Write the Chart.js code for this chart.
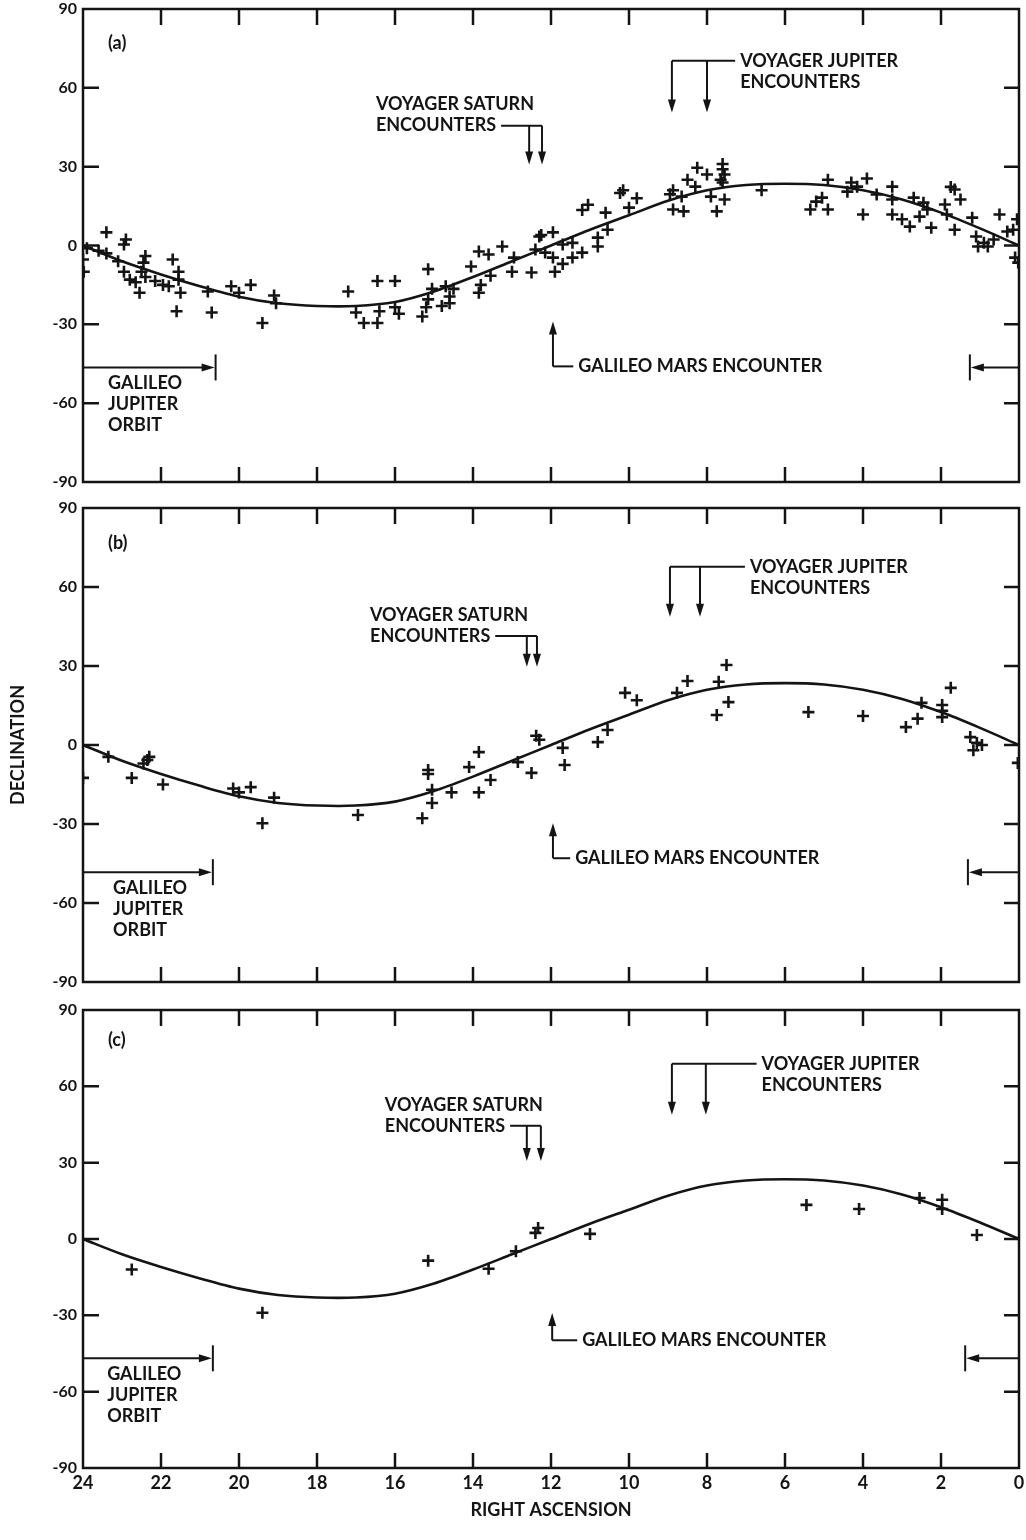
<!DOCTYPE html>
<html>
<head>
<meta charset="utf-8">
<script src="https://cdn.jsdelivr.net/npm/chart.js@4.4.1/dist/chart.umd.min.js"></script>
<style>
  html, body { margin: 0; padding: 0; background: #fff; }
  #sheet { position: relative; width: 1026px; height: 1540px; }
  canvas { position: absolute; left: 0; }
</style>
</head>
<body>
<div id="sheet">
  <canvas id="panelA" width="1026" height="495" style="top:0"></canvas>
  <canvas id="panelB" width="1026" height="500" style="top:495px"></canvas>
  <canvas id="panelC" width="1026" height="545" style="top:995px"></canvas>
</div>
<script>
const FONT = "Lato, 'DejaVu Sans', sans-serif";
const INK = "#141414";

// right ascension runs from 24 h on the left to 0 h on the right
const raTicks = [24, 22, 20, 18, 16, 14, 12, 10, 8, 6, 4, 2, 0];
const decTicks = [-90, -60, -30, 0, 30, 60, 90];

// ecliptic curve
const eclipticRa = [24, 23, 22, 21, 20, 19, 18, 17, 16, 15, 14, 13, 12,
  11, 10, 9, 8, 7, 6, 5, 4, 3, 2, 1, 0];
const eclipticDec = [0, -6, -11, -15.5, -19.5, -22, -23, -23, -21.5, -17.5, -12, -6, 0,
  6, 11.5, 17, 21, 23, 23.5, 23, 21, 17.5, 12.5, 6.5, 0];

// (a) observations
const raA = [
  24.0, 23.98, 23.9, 23.6, 23.4, 23.4, 23.1, 22.9, 22.95, 22.95,
  22.8, 22.65, 22.55, 22.4, 22.45, 22.5, 22.4, 22.15, 21.95, 21.8,
  21.7, 21.6, 21.55, 21.55, 21.5, 20.8, 20.7, 20.2, 20.0, 19.7,
  19.4, 19.1, 19.05, 17.2, 17.0, 16.8, 16.45, 16.4, 16.45, 16.0,
  16.0, 15.9, 15.3, 15.2, 15.15, 15.15, 15.05, 14.8, 14.7, 14.6,
  14.5, 14.6, 14.05, 13.85, 13.85, 13.8, 13.6, 13.55, 13.25, 13.0,
  12.95, 12.5, 12.4, 12.3, 12.25, 11.95, 12.15, 11.95, 11.9, 11.7,
  11.7, 11.45, 11.45, 11.2, 10.8, 10.8, 10.55, 11.2, 11.05, 10.6,
  10.23, 10.15, 10.0, 9.8, 8.95, 8.87, 8.87, 8.6, 8.65, 8.5,
  8.3, 8.25, 8.0, 7.9, 7.75, 7.55, 7.6, 7.6, 7.55, 7.65,
  7.6, 6.6, 5.35, 5.2, 5.05, 4.9, 4.9, 4.4, 4.3, 4.15,
  3.9, 4.0, 3.65, 3.25, 3.25, 3.25, 3.0, 2.8, 2.7, 2.55,
  2.45, 2.35, 2.25, 1.9, 1.85, 1.65, 1.75, 1.5, 1.65, 1.2,
  1.1, 1.05, 0.9, 0.8, 0.65, 0.5, 0.3, 0.15, 0.05, 0.1,
  0.02
];
const decA = [
  -5.3, -10, -1, -2, 5, -3, -6, 2.3, 0.4, -10,
  -13, -14, -18, -4, -6.5, -10, -12, -13.5, -15, -15.5,
  -5.3, -25, -10, -13, -18, -17.5, -25.5, -15.5, -18, -15,
  -29.5, -19, -22, -17.5, -25.5, -29.5, -13.5, -25, -29.5, -13.5,
  -23.5, -26, -27, -23.5, -20.5, -9, -16.5, -23, -15.5, -22,
  -16.5, -19.4, -8, -2.3, -18, -15, -3.4, -11.5, -0.4, -10,
  -4.6, -10.3, -1.5, 3.4, 4, 5, -2.7, -4.6, -10, 0.4,
  -7, 1, -4.6, -2.7, 3, -0.4, 6, 13.5, 15.5, 12.5,
  20, 21, 14.4, 18, 19.5, 21, 13.7, 13, 18.6, 25,
  22.4, 29.6, 27, 18.6, 13, 17.5, 31, 29, 27, 25,
  24, 21, 13.7, 16.7, 18.2, 13.7, 25, 20.5, 24, 22.4,
  25.5, 11.8, 19.4, 22.4, 17.5, 11.8, 10, 7.2, 18.2, 11,
  16.3, 13.7, 6.8, 15.6, 11.8, 21.3, 22.3, 17.5, 6, 10.6,
  3.4, -0.4, 1, -0.4, 2.3, 11.8, 5.3, 6, 10, -4.6,
  -6.5
];

// (b) observations
const raB = [
  24.0, 23.35, 22.75, 22.45, 22.3, 22.35, 21.95, 20.15, 20.0, 19.7,
  19.4, 19.1, 16.95, 15.3, 15.15, 15.15, 15.05, 15.05, 14.55, 14.1,
  13.85, 13.85, 13.55, 12.85, 12.5, 12.38, 12.3, 11.7, 11.65, 10.8,
  10.55, 10.1, 9.8, 8.77, 8.5, 7.7, 7.5, 7.45, 7.75, 5.4,
  4.0, 2.9, 2.6, 2.5, 1.97, 1.97, 1.97, 1.75, 1.25, 1.17,
  1.08, 0.95, 0.03
];
const decB = [
  -12.5, -4.5, -12.5, -7, -4.5, -5.7, -15, -16.5, -18, -16,
  -29.7, -20, -26.6, -27.8, -9.5, -11, -17, -22, -18, -8.4,
  -2.7, -18, -13.3, -6.5, -10.6, 3.5, 2, -1.1, -7.6, 1.1,
  5.7, 19.8, 17, 19.8, 24.3, 24, 30.4, 16.3, 11.4, 12.5,
  11, 6.8, 10, 16, 15.2, 13, 10.6, 21.7, 3, -2,
  0.8, 0, -6.8
];

// (c) observations
const raC = [22.75, 19.4, 15.15, 13.6, 12.9, 12.4, 12.33, 11.0, 5.45, 4.1,
  2.55, 1.97, 1.97, 1.08];
const decC = [-12, -29, -8.5, -11.7, -4.8, 2.4, 4.3, 2, 13.4, 11.8,
  16.1, 15.4, 11.8, 1.6];

// event markers per panel, in (RA, declination) units
const notesA = {
  tag: "(a)", tagAt: [23.36, 76.8],
  jupiter: { ra: [8.9, 8.0], line: 70.3, tip: 50.6, textRa: 7.15 },
  saturn: { ra: [12.56, 12.23], line: 45.6, tip: 30.8, textRa: 16.49 },
  mars: { ra: 11.95, tip: -28.9, base: -46, textRa: 11.3 },
  orbit: { line: -46.4, endRa: 20.6, startRa: 1.26, textRa: 23.36 }
};
const notesB = {
  tag: "(b)", tagAt: [23.36, 76.8],
  jupiter: { ra: [8.95, 8.18], line: 67.7, tip: 48.7, textRa: 6.9 },
  saturn: { ra: [12.62, 12.36], line: 41.4, tip: 29.7, textRa: 16.64 },
  mars: { ra: 11.95, tip: -29.7, base: -43, textRa: 11.38 },
  orbit: { line: -48.3, endRa: 20.67, startRa: 1.31, textRa: 23.23 }
};
const notesC = {
  tag: "(c)", tagAt: [23.36, 78],
  jupiter: { ra: [8.9, 8.03], line: 68.9, tip: 48.8, textRa: 6.6 },
  saturn: { ra: [12.62, 12.26], line: 44.5, tip: 30.7, textRa: 16.26 },
  mars: { ra: 11.97, tip: -29.1, base: -39.8, textRa: 11.2 },
  orbit: { line: -46.9, endRa: 20.67, startRa: 1.38, textRa: 23.38 }
};

function pairs(xs, ys) {
  return xs.map((v, i) => ({ x: v, y: ys[i] }));
}

function arrow(ctx, x0, y0, x1, y1) {
  const ang = Math.atan2(y1 - y0, x1 - x0);
  const len = 13, half = 4;
  ctx.beginPath();
  ctx.moveTo(x0, y0);
  ctx.lineTo(x1 - Math.cos(ang) * len * 0.6, y1 - Math.sin(ang) * len * 0.6);
  ctx.stroke();
  ctx.beginPath();
  ctx.moveTo(x1, y1);
  ctx.lineTo(x1 - Math.cos(ang) * len - Math.sin(ang) * half, y1 - Math.sin(ang) * len + Math.cos(ang) * half);
  ctx.lineTo(x1 - Math.cos(ang) * len + Math.sin(ang) * half, y1 - Math.sin(ang) * len - Math.cos(ang) * half);
  ctx.closePath();
  ctx.fill();
}

function segment(ctx, x0, y0, x1, y1) {
  ctx.beginPath();
  ctx.moveTo(x0, y0);
  ctx.lineTo(x1, y1);
  ctx.stroke();
}

// box round the plot with inward ticks, as in the printed figure
const framePlugin = {
  id: "frame",
  afterDatasetsDraw(chart) {
    const { ctx, chartArea: a, scales: { x, y } } = chart;
    ctx.save();
    ctx.strokeStyle = INK;
    ctx.lineWidth = 2.5;
    ctx.strokeRect(a.left, a.top, a.right - a.left, a.bottom - a.top);
    ctx.beginPath();
    raTicks.slice(1, -1).forEach(v => {
      const px = x.getPixelForValue(v);
      ctx.moveTo(px, a.top); ctx.lineTo(px, a.top + 16);
      ctx.moveTo(px, a.bottom); ctx.lineTo(px, a.bottom - 15);
    });
    decTicks.slice(1, -1).forEach(v => {
      const py = y.getPixelForValue(v);
      ctx.moveTo(a.left, py); ctx.lineTo(a.left + 16, py);
      ctx.moveTo(a.right, py); ctx.lineTo(a.right - 15, py);
    });
    ctx.stroke();
    ctx.restore();
  }
};

const notesPlugin = {
  id: "notes",
  afterDatasetsDraw(chart, args, n) {
    const { ctx, chartArea: area } = chart;
    const X = v => chart.scales.x.getPixelForValue(v);
    const Y = v => chart.scales.y.getPixelForValue(v);
    ctx.save();
    ctx.strokeStyle = INK;
    ctx.fillStyle = INK;
    ctx.lineWidth = 2;
    ctx.font = `bold 18px ${FONT}`;
    ctx.textAlign = "left";
    ctx.textBaseline = "middle";

    ctx.fillText(n.tag, X(n.tagAt[0]), Y(n.tagAt[1]));

    // Voyager Jupiter: bracket to the right, two arrows down
    const j = n.jupiter;
    const jy = Y(j.line), jx = X(j.textRa);
    segment(ctx, X(j.ra[0]), jy, jx - 5, jy);
    j.ra.forEach(r => arrow(ctx, X(r), jy, X(r), Y(j.tip)));
    ctx.fillText("VOYAGER JUPITER", jx, jy);
    ctx.fillText("ENCOUNTERS", jx, jy + 21);

    // Voyager Saturn: label to the left, two arrows down
    const s = n.saturn;
    const sy = Y(s.line), sx = X(s.textRa);
    ctx.fillText("VOYAGER SATURN", sx, sy - 21);
    ctx.fillText("ENCOUNTERS", sx, sy);
    const lineStart = sx + ctx.measureText("ENCOUNTERS").width + 5;
    segment(ctx, lineStart, sy, X(s.ra[1]), sy);
    s.ra.forEach(r => arrow(ctx, X(r), sy, X(r), Y(s.tip)));

    // Galileo Mars encounter: arrow up, elbow to the label
    const m = n.mars;
    const my = Y(m.base), mx = X(m.ra);
    arrow(ctx, mx, my, mx, Y(m.tip));
    segment(ctx, mx, my, X(m.textRa) - 5, my);
    ctx.fillText("GALILEO MARS ENCOUNTER", X(m.textRa), my);

    // Galileo Jupiter orbit span, wrapping round RA 0/24
    const o = n.orbit;
    const oy = Y(o.line), ex = X(o.endRa), bx = X(o.startRa);
    arrow(ctx, area.left, oy, ex - 1, oy);
    segment(ctx, ex, oy - 13, ex, oy + 13);
    arrow(ctx, area.right, oy, bx + 1, oy);
    segment(ctx, bx, oy - 13, bx, oy + 13);
    const tx = X(o.textRa);
    ctx.fillText("GALILEO", tx, oy + 16);
    ctx.fillText("JUPITER", tx, oy + 37);
    ctx.fillText("ORBIT", tx, oy + 58);

    ctx.restore();
  }
};

function makePanel(id, ra, dec, notes, pad, bottomAxis, sideTitle) {
  return new Chart(document.getElementById(id), {
    type: "scatter",
    data: {
      datasets: [
        {
          type: "line",
          data: pairs(eclipticRa, eclipticDec),
          borderColor: INK,
          borderWidth: 2.6,
          pointRadius: 0,
          tension: 0.3,
          fill: false
        },
        {
          type: "scatter",
          data: pairs(ra, dec),
          pointStyle: "cross",
          pointRadius: 6,
          pointBorderWidth: 2.6,
          borderColor: INK,
          backgroundColor: INK
        }
      ]
    },
    options: {
      responsive: false,
      animation: false,
      events: [],
      layout: { autoPadding: false, padding: pad },
      plugins: {
        legend: { display: false },
        tooltip: { enabled: false },
        notes
      },
      scales: {
        x: {
          type: "linear",
          reverse: true,
          min: 0,
          max: 24,
          display: bottomAxis,
          grid: { display: false, drawTicks: false },
          border: { display: false },
          ticks: {
            stepSize: 2,
            autoSkip: false,
            maxRotation: 0,
            padding: 4,
            color: INK,
            font: { family: FONT, size: 18, weight: "bold" }
          },
          title: {
            display: bottomAxis,
            text: "RIGHT ASCENSION",
            color: INK,
            font: { family: FONT, size: 18, weight: "bold" },
            padding: { top: 0, bottom: 19 }
          },
          afterFit: s => {
            if (bottomAxis) s.height = 72;
            s.paddingLeft = 0;
            s.paddingRight = 0;
          }
        },
        y: {
          type: "linear",
          min: -90,
          max: 90,
          grid: { display: false, drawTicks: false },
          border: { display: false },
          ticks: {
            stepSize: 30,
            padding: 6,
            color: INK,
            font: { family: FONT, size: 16, weight: "bold" }
          },
          title: {
            display: sideTitle,
            text: "DECLINATION",
            color: INK,
            font: { family: FONT, size: 18, weight: "bold" },
            padding: { top: 7, bottom: 0 }
          },
          afterFit: s => {
            s.width = 83;
            s.paddingTop = 0;
            s.paddingBottom = 0;
          }
        }
      }
    },
    plugins: [framePlugin, notesPlugin]
  });
}

makePanel("panelA", raA, decA, notesA, { left: 0, right: 7, top: 9, bottom: 13 }, false, false);
makePanel("panelB", raB, decB, notesB, { left: 0, right: 7, top: 13, bottom: 13 }, false, true);
makePanel("panelC", raC, decC, notesC, { left: 0, right: 7, top: 15, bottom: 0 }, true, false);
</script>
</body>
</html>
